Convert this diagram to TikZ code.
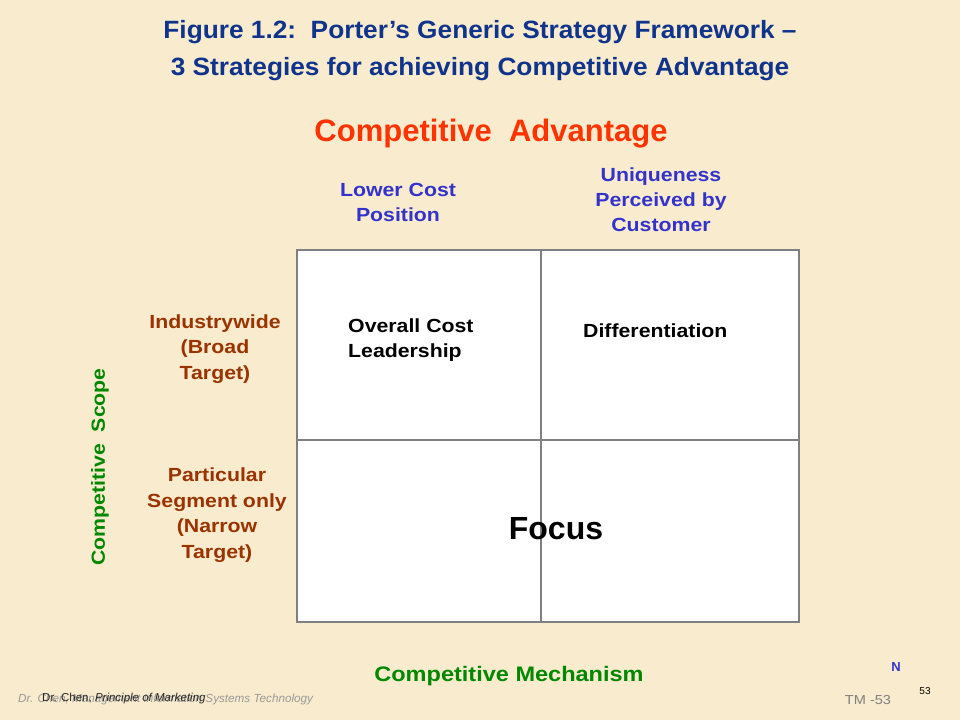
\documentclass[tikz,border=0pt]{standalone}
\usepackage{fontspec}
\setmainfont{Liberation Sans}
\newfontfamily\headfont[FakeStretch=1.05]{Liberation Sans}
\newfontfamily\widefont[FakeStretch=1.12]{Liberation Sans}
\usetikzlibrary{positioning}

\definecolor{paper}{RGB}{249,235,205}
\definecolor{titleblue}{RGB}{16,52,140}
\definecolor{advred}{RGB}{255,51,0}
\definecolor{mechblue}{RGB}{51,51,204}
\definecolor{scopebrown}{RGB}{153,51,0}
\definecolor{scopegreen}{RGB}{0,135,0}
\definecolor{gridgray}{RGB}{128,128,128}

\begin{document}
\begin{tikzpicture}[x=1pt, y=-1pt,
    every node/.style = {inner sep = 0pt, align = center},
    headtext/.style = {text = titleblue, font = \headfont\bfseries\fontsize{25}{37}\selectfont},
    axistext/.style = {text = scopegreen, font = \widefont\bfseries\fontsize{19}{24}\selectfont},
    mechtext/.style = {text = mechblue, font = \widefont\bfseries\fontsize{19}{25}\selectfont},
    rowtext/.style = {text = scopebrown, font = \widefont\bfseries\fontsize{19}{25.5}\selectfont},
    celltext/.style = {text = black, font = \widefont\bfseries\fontsize{19}{25}\selectfont, align = left}]
    \useasboundingbox [fill = paper] (0, 0) rectangle (960, 720);

    %%%%%%%%%% titles %%%%%%%%%%%%%%%%%%%
    \node [headtext] (title) at (480, 51) {Figure 1.2:\ \ Porter’s Generic Strategy Framework –\\3 Strategies for achieving Competitive Advantage};
    \node [text = advred, font = \bfseries\fontsize{31}{36}\selectfont] (advantage) at (491, 134) {Competitive\ \ Advantage};

    %%%%%%%%%% column heads %%%%%%%%%%%%%%%%%%%
    \node [mechtext] (lowcost) at (398, 202) {Lower Cost\\Position};
    \node [mechtext] (unique) at (661, 200) {Uniqueness\\Perceived by\\Customer};

    %%%%%%%%%% the grid %%%%%%%%%%%%%%%%%%%
    \begin{scope}[draw = gridgray, line width = 2.5pt]
        \draw [fill = white] (297, 250) rectangle (799, 622);
        \draw (541, 250)  --  (541, 622);
        \draw (297, 440)  --  (799, 440);
    \end{scope}

    \node [celltext, anchor = west] (cost) at (348, 340) {Overall Cost\\Leadership};
    \node [celltext, anchor = west] (diff) at (583, 331) {Differentiation};
    \node [font = \bfseries\fontsize{32}{36}\selectfont] (focus) at (556, 529) {Focus};

    %%%%%%%%%% row heads %%%%%%%%%%%%%%%%%%%
    \node [rowtext] (broad) at (215, 349) {Industrywide\\(Broad\\Target)};
    \node [rowtext] (narrow) at (217, 515) {Particular\\Segment only\\(Narrow\\Target)};
    \node [axistext, rotate = 90] (scope) at (100, 467) {Competitive\ \ Scope};
    \node [axistext, font = \widefont\bfseries\fontsize{21}{24}\selectfont] (mechanism) at (509, 676) {Competitive Mechanism};

    %%%%%%%%%% footer %%%%%%%%%%%%%%%%%%%
    \node [anchor = west, text = black!40, font = \itshape\fontsize{11.7}{13}\selectfont] (course) at (18, 699) {Dr. Chen, Management Information Systems Technology};
    \node [anchor = west, text = black!85, font = \fontsize{11.5}{13}\selectfont] (book) at (42, 699) {Dr. Chen, \textit{Principle of Marketing}};
    \node [text = mechblue, font = \bfseries\fontsize{13}{15}\selectfont] (nmark) at (896, 667) {N};
    \node [text = black!50, font = \widefont\fontsize{13}{15}\selectfont] (tm) at (868, 700) {TM -53};
    \node [font = \rmfamily\fontsize{10}{12}\selectfont] (page) at (925, 691) {53};
\end{tikzpicture}
\end{document}
